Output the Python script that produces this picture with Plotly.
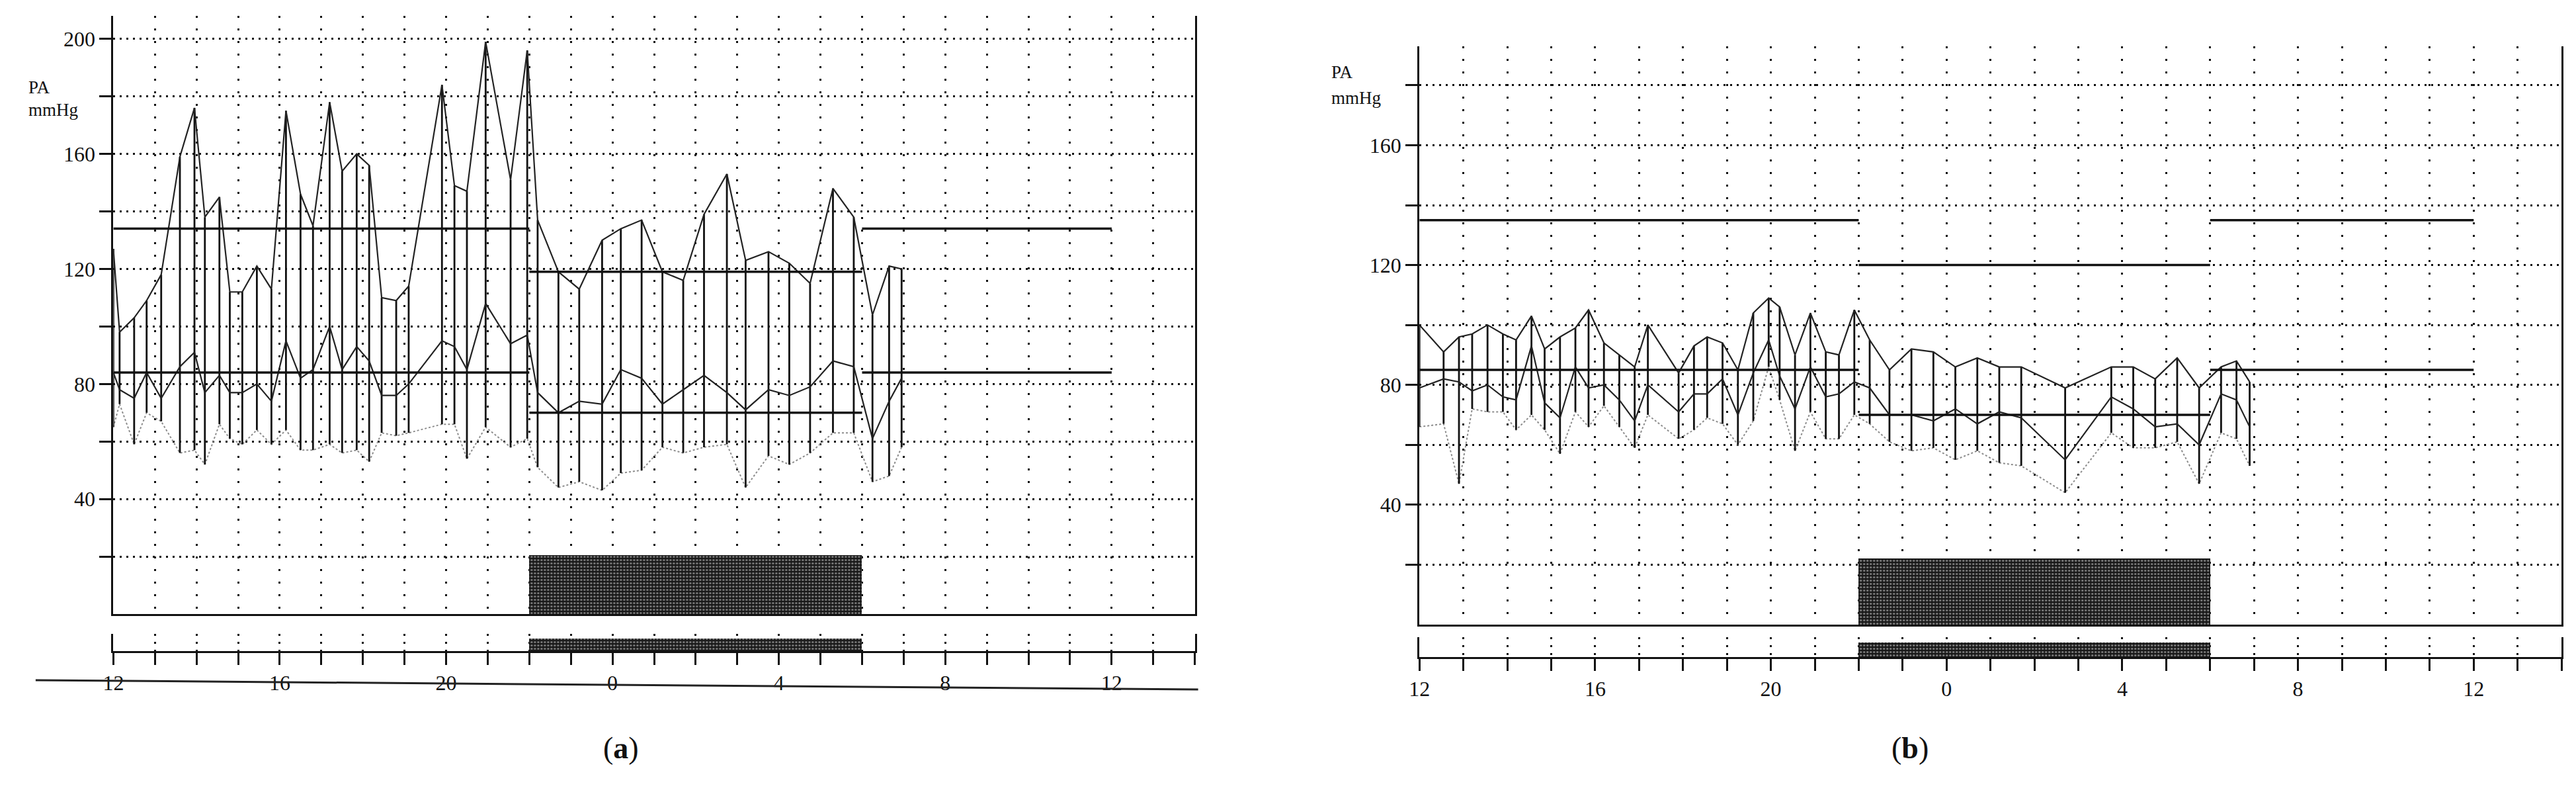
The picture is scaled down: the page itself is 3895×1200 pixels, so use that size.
import plotly.graph_objects as go

W, H = 3895, 1200
FONT = "Liberation Serif"

# ---- panel (a): readings, hour of day (24+ = next day) ----
a_hora = [12.0, 12.15, 12.5, 12.8, 13.15, 13.6, 13.95, 14.2, 14.55, 14.8, 15.1, 15.45, 15.8,
          16.15, 16.5, 16.8, 17.2, 17.5, 17.85, 18.15, 18.45, 18.8, 19.1, 19.9, 20.2, 20.5,
          20.95, 21.55, 21.95, 22.2, 22.7, 23.2, 23.75, 24.2, 24.7, 25.2, 25.7, 26.2, 26.75,
          27.2, 27.75, 28.25, 28.75, 29.3, 29.8, 30.25, 30.65, 30.95]
a_sis = [127, 98, 103, 109, 118, 159, 176, 138, 145, 112, 112, 121, 113,
         175, 146, 135, 178, 154, 160, 156, 110, 109, 114, 184, 149, 147,
         199, 151, 196, 137, 119, 113, 130, 134, 137, 119, 116, 139, 153,
         123, 126, 122, 115, 148, 138, 104, 121, 120]
a_med = [84, 78, 75, 84, 75, 86, 91, 77, 83, 77, 77, 80, 74,
         95, 82, 85, 100, 85, 93, 88, 76, 76, 80, 95, 93, 85,
         108, 94, 97, 77, 70, 74, 73, 85, 82, 73, 78, 83, 77,
         71, 78, 76, 79, 88, 86, 61, 74, 82]
a_dia = [65, 73, 59, 70, 67, 56, 57, 52, 66, 61, 59, 64, 59,
         64, 57, 57, 59, 56, 57, 53, 63, 62, 63, 66, 66, 54,
         65, 58, 61, 51, 44, 46, 43, 49, 50, 58, 56, 58, 59,
         44, 55, 52, 56, 63, 63, 46, 48, 58]

# ---- panel (b) ----
b_hora = [12.0, 12.55, 12.9, 13.2, 13.55, 13.9, 14.2, 14.55, 14.85, 15.2, 15.55, 15.85, 16.2,
          16.55, 16.9, 17.2, 17.9, 18.25, 18.55, 18.9, 19.25, 19.6, 19.95, 20.2, 20.55, 20.9,
          21.25, 21.55, 21.9, 22.25, 22.7, 23.2, 23.7, 24.2, 24.7, 25.2, 25.7, 26.7, 27.75,
          28.25, 28.75, 29.25, 29.75, 30.25, 30.6, 30.9]
b_sis = [100, 91, 96, 97, 100, 97, 95, 103, 92, 96, 99, 105, 94,
         90, 86, 100, 84, 93, 96, 94, 85, 104, 109, 106, 90, 104,
         91, 90, 105, 95, 85, 92, 91, 86, 89, 86, 86, 79, 86,
         86, 82, 89, 79, 86, 88, 81]
b_med = [79, 82, 81, 78, 80, 76, 75, 93, 74, 69, 86, 79, 80,
         75, 68, 80, 71, 77, 77, 82, 70, 84, 95, 83, 72, 86,
         76, 77, 81, 79, 70, 70, 68, 72, 67, 71, 69, 55, 76,
         72, 66, 67, 60, 77, 75, 66]
b_dia = [66, 67, 47, 72, 71, 71, 65, 70, 65, 57, 71, 66, 73,
         66, 59, 70, 62, 65, 69, 67, 60, 68, 86, 75, 58, 71,
         62, 62, 70, 67, 61, 58, 59, 55, 58, 54, 53, 44, 64,
         59, 59, 61, 47, 64, 62, 53]

# average lines: (inicio, fim) of each period
periodos = [(12, 22), (22, 30), (30, 36)]
a_media_sis = [134, 119, 134]
a_media_med = [84, 70, 84]
b_media_sis = [135, 120, 135]
b_media_med = [85, 70, 85]

# sleep period
sono = (22, 30)
a_sono_alt = 20.5
b_sono_alt = 22

horas_rotulo = {12: "12", 16: "16", 20: "20", 24: "0", 28: "4", 32: "8", 36: "12"}


def barras(hora, sis, dia):
    xs, ys = [], []
    for t, s, d in zip(hora, sis, dia):
        xs += [t, t, None]
        ys += [s, d, None]
    return xs, ys


def estipple():
    return dict(color="#1a1a1a", line=dict(width=0),
                pattern=dict(shape=".", fgcolor="#e6e6e6", bgcolor="#1a1a1a", size=5, solidity=0.32))


def painel(fig, hora, sis, med, dia, media_sis, media_med, sono_alt, xa, ya, xs, ys):
    fig.add_trace(go.Bar(x=[(sono[0] + sono[1]) / 2], y=[sono_alt], width=[sono[1] - sono[0]], base=0,
                         marker=estipple(), xaxis=xa, yaxis=ya, showlegend=False))
    fig.add_trace(go.Bar(x=[(sono[0] + sono[1]) / 2], y=[0.72], width=[sono[1] - sono[0]], base=0,
                         marker=estipple(), xaxis=xs, yaxis=ys, showlegend=False))
    fig.add_trace(go.Scatter(x=hora, y=dia, mode="lines", line=dict(color="#8c8c8c", width=2, dash="3px,3px"),
                             xaxis=xa, yaxis=ya, showlegend=False))
    bx, by = barras(hora, sis, dia)
    fig.add_trace(go.Scatter(x=bx, y=by, mode="lines", line=dict(color="#111", width=2.8),
                             xaxis=xa, yaxis=ya, showlegend=False, connectgaps=False))
    fig.add_trace(go.Scatter(x=hora, y=med, mode="lines", line=dict(color="#222", width=2.2),
                             xaxis=xa, yaxis=ya, showlegend=False))
    fig.add_trace(go.Scatter(x=hora, y=sis, mode="lines", line=dict(color="#222", width=2.2),
                             xaxis=xa, yaxis=ya, showlegend=False))
    for (t0, t1), s, m in zip(periodos, media_sis, media_med):
        fig.add_trace(go.Scatter(x=[t0, t1], y=[s, s], mode="lines", line=dict(color="#111", width=3.5),
                                 xaxis=xa, yaxis=ya, showlegend=False))
        fig.add_trace(go.Scatter(x=[t0, t1], y=[m, m], mode="lines", line=dict(color="#111", width=3.5),
                                 xaxis=xa, yaxis=ya, showlegend=False))


fig = go.Figure()
painel(fig, a_hora, a_sis, a_med, a_dia, a_media_sis, a_media_med, a_sono_alt, "x", "y", "x3", "y3")
painel(fig, b_hora, b_sis, b_med, b_dia, b_media_sis, b_media_med, b_sono_alt, "x2", "y2", "x4", "y4")


def eixo_x_principal(dom):
    return dict(domain=dom, range=[12, 38], tickvals=list(range(13, 38)), showticklabels=False, ticks="",
                showgrid=True, gridcolor="#111", gridwidth=3, griddash="3px,16px",
                showline=True, linecolor="#111", linewidth=3, zeroline=False, fixedrange=True)


def eixo_y_principal(dom, topo, xa):
    vals = list(range(20, int(topo) + 1, 20))
    txt = [str(v) if v % 40 == 0 else "" for v in vals]
    return dict(domain=dom, range=[0, topo], tickvals=vals, ticktext=txt, ticks="outside", ticklen=18,
                tickwidth=3, tickcolor="#111", ticklabelstandoff=0,
                tickfont=dict(family=FONT, size=32, color="#111"),
                showgrid=True, gridcolor="#111", gridwidth=3, griddash="3px,7px",
                showline=True, linecolor="#111", linewidth=3, mirror=True, zeroline=False,
                anchor=xa, fixedrange=True)


def eixo_x_faixa(dom, ya):
    vals = list(range(12, 39))
    return dict(domain=dom, range=[12, 38], tickvals=vals, ticktext=[horas_rotulo.get(v, "") for v in vals],
                ticks="outside", ticklen=18, tickwidth=3, tickcolor="#111",
                tickfont=dict(family=FONT, size=32, color="#111"),
                showgrid=True, gridcolor="#111", gridwidth=3, griddash="3px,9px",
                showline=True, linecolor="#111", linewidth=3, zeroline=False, anchor=ya, fixedrange=True)


def eixo_y_faixa(dom, xa):
    return dict(domain=dom, range=[0, 1], showticklabels=False, ticks="", showgrid=False,
                showline=True, linecolor="#111", linewidth=3, mirror=True, zeroline=False,
                anchor=xa, fixedrange=True)


dom_a = [148 / W, 1790 / W]
dom_b = [2131 / W, 3865 / W]

fig.update_layout(
    width=W, height=H, autosize=False,
    margin=dict(l=0, r=0, t=0, b=0),
    paper_bgcolor="white", plot_bgcolor="white",
    bargap=0, showlegend=False,
    xaxis=dict(eixo_x_principal(dom_a), anchor="y"),
    yaxis=eixo_y_principal([1 - 920 / H, 1 - 16 / H], 208, "x"),
    xaxis2=dict(eixo_x_principal(dom_b), anchor="y2"),
    yaxis2=eixo_y_principal([1 - 936 / H, 1 - 62 / H], 193, "x2"),
    xaxis3=eixo_x_faixa(dom_a, "y3"),
    yaxis3=eixo_y_faixa([1 - 976 / H, 1 - 950 / H], "x3"),
    xaxis4=eixo_x_faixa(dom_b, "y4"),
    yaxis4=eixo_y_faixa([1 - 985 / H, 1 - 955 / H], "x4"),
)

# axis titles "PA / mmHg"
for x0, ypa, ymm in [(17, 124, 158), (1995, 101, 140)]:
    fig.add_annotation(text="PA", x=x0 / W, y=1 - ypa / H, xref="paper", yref="paper", xanchor="left",
                       yanchor="middle", showarrow=False, font=dict(family=FONT, size=27, color="#111"))
    fig.add_annotation(text="mmHg", x=x0 / W, y=1 - ymm / H, xref="paper", yref="paper", xanchor="left",
                       yanchor="middle", showarrow=False, font=dict(family=FONT, size=27, color="#111"))

# panel letters
for letra, xc in [("a", 890), ("b", 2906)]:
    fig.add_annotation(text="(<b>%s</b>)" % letra, x=xc / W, y=1 - 1150 / H, xref="paper", yref="paper",
                       showarrow=False, font=dict(family=FONT, size=46, color="#111"))

# scan edge line under panel (a)
fig.add_shape(type="line", xref="paper", yref="paper", x0=30 / W, y0=1 - 1020 / H, x1=1795 / W, y1=1 - 1034 / H,
              line=dict(color="#222", width=3))

fig.write_html("out.html")
